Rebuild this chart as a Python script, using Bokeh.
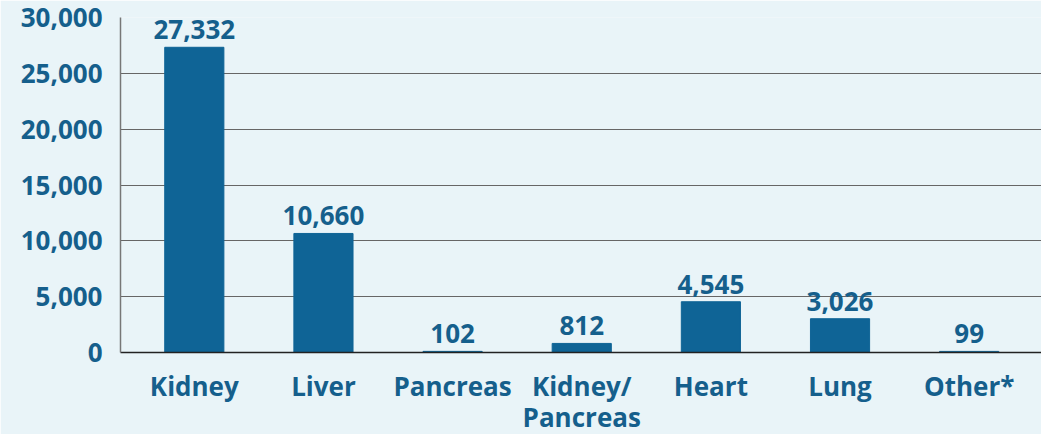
from bokeh.plotting import figure
from bokeh.models import ColumnDataSource, FixedTicker, NumeralTickFormatter, LabelSet
from bokeh.core.properties import value
from bokeh.embed import file_html
from bokeh.resources import INLINE

categories = ["Kidney", "Liver", "Pancreas", "Kidney/\nPancreas", "Heart", "Lung", "Other*"]
values = [27332, 10660, 102, 812, 4545, 3026, 99]
value_labels = ["27,332", "10,660", "102", "812", "4,545", "3,026", "99"]
y_ticks = [0, 5000, 10000, 15000, 20000, 25000, 30000]

BG = "#e9f4f8"
BAR = "#0f6496"
TXT = "#155f8c"
FONT = "Open Sans"
FS = "26px"

xs = list(range(len(categories)))
src = ColumnDataSource(dict(x=xs, top=values, lab=value_labels))

p = figure(frame_width=921, frame_height=335, output_backend="svg", toolbar_location=None,
           x_range=(-0.5715, 6.560), y_range=(0, 30000),
           background_fill_color=BG, border_fill_color=BG,
           min_border_left=120, min_border_right=0, min_border_top=17, min_border_bottom=0)
p.outline_line_color = None

p.vbar(x="x", top="top", width=0.458, source=src, color=BAR)

labels = LabelSet(x="x", y="top", text="lab", source=src, text_align="center",
                  text_baseline="alphabetic", y_offset=8,
                  text_font=value(FONT), text_font_style="bold", text_font_size=FS,
                  text_color=TXT)
p.add_layout(labels)

p.xaxis.ticker = FixedTicker(ticks=xs)
p.xaxis.major_label_overrides = {i: c for i, c in enumerate(categories)}
p.xaxis.major_label_text_font = FONT
p.xaxis.major_label_text_font_style = "bold"
p.xaxis.major_label_text_font_size = FS
p.xaxis.major_label_text_color = TXT
p.xaxis.major_label_text_line_height = 0.88
p.xaxis.major_label_standoff = 15
p.xaxis.major_tick_out = 0
p.xaxis.major_tick_in = 0
p.xaxis.major_tick_line_color = None
p.xaxis.minor_tick_line_color = None
p.xaxis.axis_line_color = "#222222"
p.xaxis.axis_line_width = 1.5

p.yaxis.ticker = FixedTicker(ticks=y_ticks)
p.yaxis.formatter = NumeralTickFormatter(format="0,0")
p.yaxis.major_label_text_font = FONT
p.yaxis.major_label_text_font_style = "bold"
p.yaxis.major_label_text_font_size = FS
p.yaxis.major_label_text_color = TXT
p.yaxis.major_label_standoff = 18
p.yaxis.major_tick_out = 0
p.yaxis.major_tick_in = 0
p.yaxis.major_tick_line_color = None
p.yaxis.minor_tick_line_color = None
p.yaxis.axis_line_color = "#777777"
p.yaxis.axis_line_width = 1.5

p.xgrid.grid_line_color = None
p.ygrid.ticker = FixedTicker(ticks=y_ticks)
p.ygrid.grid_line_color = "#666666"
p.ygrid.grid_line_width = 1.2

open("out.html", "w").write(file_html(p, INLINE))
